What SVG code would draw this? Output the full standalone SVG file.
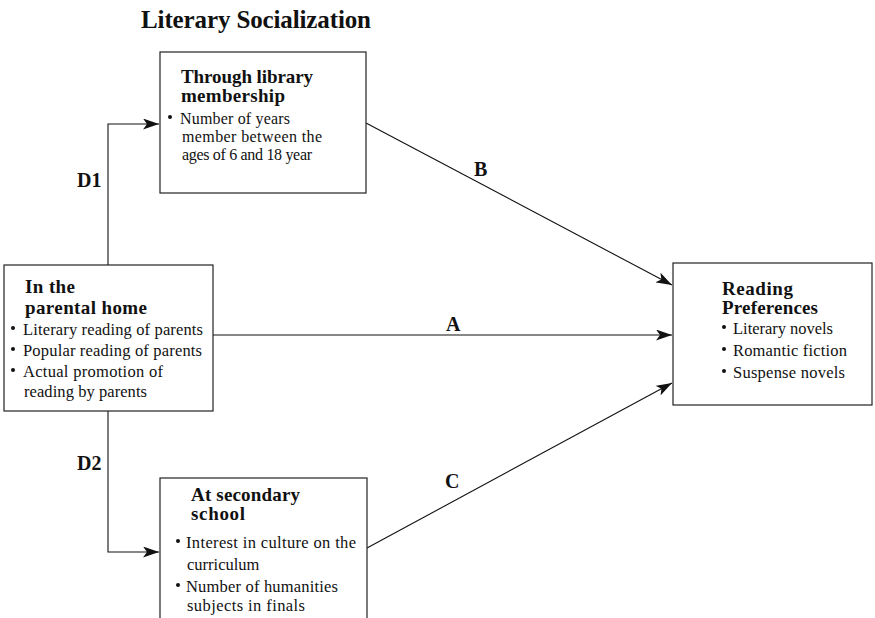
<svg xmlns="http://www.w3.org/2000/svg" width="875" height="618" viewBox="0 0 875 618">
<style>
.box{fill:#fff;stroke:#222;stroke-width:1.2}
.ln{fill:none;stroke:#111;stroke-width:1.1}
.h{font-family:"Liberation Serif","DejaVu Serif",serif;font-weight:bold;font-size:19px;fill:#111}
.t{font-family:"Liberation Serif","DejaVu Serif",serif;font-size:16.5px;fill:#111}
.t16{font-size:16px}
.lab{font-family:"Liberation Serif","DejaVu Serif",serif;font-weight:bold;font-size:20px;fill:#111}
.title{font-size:25px}
.dot{fill:#111}
</style>
<defs>
<marker id="arr" markerWidth="17" markerHeight="11" refX="16" refY="5.5" orient="auto" markerUnits="userSpaceOnUse">
<path d="M0,0 L16,5.5 L0,11 L4,5.5 z" fill="#111"/>
</marker>
</defs>
<rect width="875" height="618" fill="#fff"/>
<text class="lab title" x="141" y="28" textLength="230">Literary Socialization</text>

<g id="connectors">
<polyline class="ln" points="108,265 108,124 159,124" marker-end="url(#arr)"/>
<polyline class="ln" points="108,411 108,552 159,552" marker-end="url(#arr)"/>
<line class="ln" x1="213" y1="335" x2="672" y2="335" marker-end="url(#arr)"/>
<line class="ln" x1="366" y1="123" x2="672" y2="285" marker-end="url(#arr)"/>
<line class="ln" x1="367" y1="548" x2="672" y2="383" marker-end="url(#arr)"/>
<text class="lab" x="77" y="187">D1</text>
<text class="lab" x="77" y="470">D2</text>
<text class="lab" x="474" y="176">B</text>
<text class="lab" x="446" y="331">A</text>
<text class="lab" x="445" y="488">C</text>
</g>

<g id="library">
<rect class="box" x="160" y="52" width="206" height="141"/>
<text class="h" x="181" y="83" textLength="132">Through library</text>
<text class="h" x="181" y="102" textLength="104">membership</text>
<circle class="dot" cx="170" cy="117" r="2"/>
<text class="t t16" x="180" y="124" textLength="110">Number of years</text>
<text class="t t16" x="182" y="142" textLength="140">member between the</text>
<text class="t t16" x="182" y="160" textLength="130">ages of 6 and 18 year</text>
</g>

<g id="home">
<rect class="box" x="4" y="265" width="209" height="146"/>
<text class="h" x="25" y="293" textLength="50">In the</text>
<text class="h" x="25" y="314" textLength="122">parental home</text>
<circle class="dot" cx="13" cy="328" r="2"/>
<text class="t" x="23" y="335" textLength="180">Literary reading of parents</text>
<circle class="dot" cx="13" cy="349" r="2"/>
<text class="t" x="23" y="356" textLength="179">Popular reading of parents</text>
<circle class="dot" cx="13" cy="370" r="2"/>
<text class="t" x="23" y="377" textLength="140">Actual promotion of</text>
<text class="t" x="24" y="397" textLength="123">reading by parents</text>
</g>

<g id="reading">
<rect class="box" x="673" y="263" width="199" height="142"/>
<text class="h" x="722" y="295" textLength="71">Reading</text>
<text class="h" x="722" y="314" textLength="96">Preferences</text>
<circle class="dot" cx="724" cy="327" r="2"/>
<text class="t" x="733" y="334" textLength="100">Literary novels</text>
<circle class="dot" cx="724" cy="349" r="2"/>
<text class="t" x="733" y="356" textLength="114">Romantic fiction</text>
<circle class="dot" cx="724" cy="371" r="2"/>
<text class="t" x="733" y="378" textLength="112">Suspense novels</text>
</g>

<g id="school">
<rect class="box" x="160" y="478" width="207" height="150"/>
<text class="h" x="191" y="501" textLength="109">At secondary</text>
<text class="h" x="191" y="520" textLength="54">school</text>
<circle class="dot" cx="178" cy="541" r="2"/>
<text class="t" x="186" y="548" textLength="170">Interest in culture on the</text>
<text class="t" x="187" y="570">curriculum</text>
<circle class="dot" cx="178" cy="585" r="2"/>
<text class="t" x="186" y="592" textLength="152">Number of humanities</text>
<text class="t" x="187" y="611" textLength="118">subjects in finals</text>
</g>
</svg>
